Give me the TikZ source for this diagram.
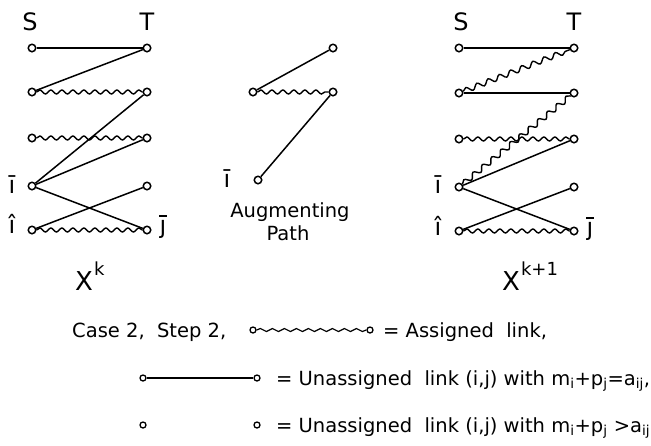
\documentclass[tikz,border=0pt]{standalone}
\usepackage{fontspec}
\setmainfont{DejaVu Sans}
\usetikzlibrary{decorations.pathmorphing}
\newcommand{\jbarlabel}{\ooalign{\j\cr\hidewidth\rule[0.66em]{0.30em}{0.07em}\hidewidth\cr}}
\begin{document}
\begin{tikzpicture}[x=1pt,y=-1pt,
  vtx/.style={circle, draw, fill=white, inner sep=0pt, minimum size=7.5pt, line width=1.5pt},
  lvtx/.style={circle, draw, fill=white, inner sep=0pt, minimum size=6pt, line width=1.3pt},
  plain/.style={line width=1.5pt},
  wavy/.style={line width=1.4pt, decorate, decoration={snake, amplitude=2pt, segment length=11pt}},
  wavyd/.style={line width=1.4pt, decorate, decoration={snake, amplitude=2.6pt, segment length=12pt}},
  wavyl/.style={line width=1.2pt, decorate, decoration={snake, amplitude=1.5pt, segment length=12pt}},
  glab/.style={inner sep=0pt, anchor=base, font=\fontsize{24}{26}\selectfont},
  captext/.style={inner sep=0pt, anchor=base, font=\fontsize{19.5}{22}\selectfont},
  leg/.style={inner sep=0pt, anchor=base west, font=\fontsize{19.5}{24}\selectfont},
  bigx/.style={inner sep=0pt, anchor=base west, font=\fontsize{26}{28}\selectfont}]
\fill[white] (0,0) rectangle (651,445);
\useasboundingbox (0,0) rectangle (651,445);

% ---------- left graph X^k ----------
\foreach \n/\y in {1/48,2/92,3/138,4/186,5/230}{
  \node[vtx] (aS\n) at (32,\y) {};
  \node[vtx] (aT\n) at (147,\y) {};
}
\node[glab] (aSl) at (30,30) {S};
\node[glab] (aTl) at (147,30) {T};
\node[glab] (aib) at (12,193) {ī};
\node[glab] (aih) at (12,233) {î};
\node[glab] (ajb) at (163,233) {\jbarlabel};
\draw[plain] (aS1) -- (aT1);
\draw[plain] (aS2) -- (aT1);
\draw[wavy] (aS2) -- (aT2);
\draw[wavy] (aS3) -- (aT3);
\draw[plain] (aS4) -- (aT2);
\draw[plain] (aS4) -- (aT3);
\draw[plain] (aS4) -- (aT5);
\draw[plain] (aS5) -- (aT4);
\draw[wavy] (aS5) -- (aT5);
\node[bigx] (xk) at (75,290) {X\hspace{1pt}\raisebox{15pt}{\fontsize{18}{18}\selectfont k}};

% ---------- augmenting path ----------
\node[vtx] (mT1) at (333,48) {};
\node[vtx] (mS2) at (253,92) {};
\node[vtx] (mT2) at (333,92) {};
\node[vtx] (mS4) at (258,180) {};
\node[glab] (mib) at (227,187) {ī};
\draw[plain] (mS2) -- (mT1);
\draw[wavy] (mS2) -- (mT2);
\draw[plain] (mT2) -- (mS4);
\node[captext] (aug) at (290,217) {Augmenting};
\node[captext] (path) at (288,240) {Path};

% ---------- right graph X^{k+1} ----------
\foreach \n/\y in {1/48,2/93,3/139,4/187,5/231}{
  \node[vtx] (bS\n) at (459,\y) {};
  \node[vtx] (bT\n) at (574,\y) {};
}
\node[glab] (bSl) at (461,30) {S};
\node[glab] (bTl) at (574,30) {T};
\node[glab] (bib) at (438,193) {ī};
\node[glab] (bih) at (438,235) {î};
\node[glab] (bjb) at (590,235) {\jbarlabel};
\draw[plain] (bS1) -- (bT1);
\draw[wavyd] (bS2) -- (bT1);
\draw[plain] (bS2) -- (bT2);
\draw[wavy] (bS3) -- (bT3);
\draw[wavyd] (bS4) -- (bT2);
\draw[plain] (bS4) -- (bT3);
\draw[plain] (bS4) -- (bT5);
\draw[plain] (bS5) -- (bT4);
\draw[wavy] (bS5) -- (bT5);
\node[bigx] (xk1) at (502,290) {X\hspace{1pt}\raisebox{15pt}{\fontsize{18}{18}\selectfont k+1}};

% ---------- legend ----------
\node[leg] (case) at (72,337) {Case 2,\ \ Step 2,};
\node[lvtx] (l1a) at (253,330) {};
\node[lvtx] (l1b) at (370,330) {};
\draw[wavyl] (l1a) -- (l1b);
\node[leg] (t1) at (383,337) {= Assigned\ \ link,};

\node[lvtx] (l2a) at (143,378) {};
\node[lvtx] (l2b) at (257,378) {};
\draw[plain, line width=1.2pt] (l2a) -- (l2b);
\node[leg] (t2) at (276,385) {= Unassigned\ \ link (i,j) with m\textsubscript{i}+p\textsubscript{j}=a\textsubscript{ij},};

\node[lvtx] (l3a) at (143,425) {};
\node[lvtx] (l3b) at (257,425) {};
\node[leg] (t3) at (276,432) {= Unassigned\ \ link (i,j) with m\textsubscript{i}+p\textsubscript{j} >a\textsubscript{ij}};
\end{tikzpicture}
\end{document}
